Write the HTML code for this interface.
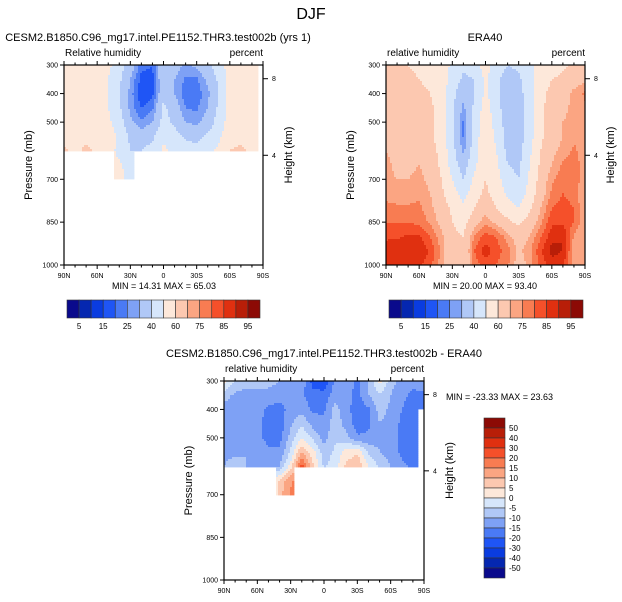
<!DOCTYPE html>
<html><head><meta charset="utf-8"><style>
html,body{margin:0;padding:0;background:#fff}
svg{display:block;font-family:"Liberation Sans",sans-serif}
</style></head><body>
<svg id="fig" width="622" height="602" viewBox="0 0 622 602" xmlns="http://www.w3.org/2000/svg">
<text x="311" y="19" text-anchor="middle" font-size="16">DJF</text>
</svg>
<script>
const lats=[90,80,70,60,50,40,30,20,10,0,-10,-20,-30,-40,-50,-60,-70,-80,-90];
const levels=[300,350,400,450,500,550,600,650,700,750,800,850,900,950,1000];
const absLevels=[5,10,15,20,25,30,40,50,60,70,75,80,85,90,95];
const diffLevels=[-50,-40,-30,-20,-15,-10,-5,0,5,10,15,20,30,40,50];
const colors=["#0a0a8c","#0527b0","#0a3ce0","#1f55f5","#4a7af5","#7ea1f5","#b0c8f7","#d6e6fb","#fde8da","#fcc8b0","#fba582","#f87c52","#f5502a","#e03010","#b81e08","#8c0a05"];
const modelRH=[
[56,56,55,55,52,45,35,22,20,40,35,28,32,38,45,55,55,58,62],
[55,55,55,54,50,42,30,18,18,38,30,24,24,32,42,54,55,56,60],
[55,55,55,54,50,40,28,15,18,38,30,22,22,28,40,54,55,55,60],
[55,55,55,54,50,42,28,20,24,42,35,25,24,30,42,54,55,55,58],
[55,55,56,55,52,45,32,26,30,44,38,30,28,34,45,54,55,55,55],
[56,58,58,57,55,48,38,34,38,48,44,38,36,42,48,56,57,56,55],
[62,57,62,58,56,46,40,40,44,52,48,46,44,48,52,60,62,58,55],
[60,58,60,58,56,52,44,45,48,52,50,48,46,50,54,60,60,58,55],
[60,58,60,58,56,54,46,48,50,52,50,48,48,50,54,60,60,58,55]];
const eraRH=[
[62,62,60,58,56,55,48,42,45,55,45,40,42,48,55,55,58,62,65],
[64,63,62,60,58,55,46,38,40,52,42,36,38,46,56,60,62,66,68],
[66,65,64,62,60,55,44,32,40,52,42,34,36,46,58,62,66,72,76],
[66,66,65,64,62,55,42,28,42,55,44,34,35,46,58,64,68,72,74],
[66,66,65,64,62,55,42,24,44,56,46,35,35,46,58,64,70,72,72],
[68,67,66,65,62,55,42,24,45,57,48,36,35,46,58,66,70,74,72],
[70,68,66,68,64,57,44,28,46,58,50,37,36,48,60,68,72,76,72],
[72,68,68,70,66,58,46,35,48,58,52,40,38,50,62,70,76,78,72],
[72,70,70,72,68,60,50,40,52,60,54,44,40,52,64,74,78,78,72],
[74,72,72,74,70,62,54,46,56,62,56,48,44,54,66,76,80,78,70],
[76,76,76,76,72,65,58,52,60,66,60,54,50,58,70,80,82,80,70],
[80,80,80,78,74,68,60,56,66,74,68,62,58,64,74,84,84,80,70],
[84,84,86,86,80,72,62,60,76,82,80,72,66,70,80,88,90,74,70],
[88,88,88,90,84,74,62,60,80,88,82,78,68,74,84,92,90,72,72],
[90,88,86,86,82,72,62,60,78,82,80,76,66,72,82,88,86,74,74]];
const diffRH=[
[2,-6,-8,-8,-8,-10,-12,-12,-22,-24,-14,-12,-16,-10,2,-8,-12,-14,-12],
[-8,-11,-12,-12,-12,-13,-13,-14,-18,-18,-12,-13,-17,-10,-6,-10,-14,-16,-16],
[-12,-13,-13,-13,-16,-17,-13,-12,-16,-16,-8,-13,-18,-16,-8,-11,-15,-17,-17],
[-12,-13,-13,-14,-17,-18,-11,-6,-12,-14,-7,-12,-18,-16,-10,-12,-16,-18,-18],
[-12,-13,-13,-13,-17,-17,-8,0,-6,-12,-6,-8,-14,-14,-11,-13,-16,-18,-18],
[-11,-11,-10,-11,-14,-14,-4,10,2,-8,-4,2,4,-6,-10,-12,-16,-18,-18],
[-10,-8,-10,-10,-10,-10,2,22,6,-6,-2,6,10,0,-6,-10,-14,-16,-18],
[-8,-8,-8,-8,-8,6,14,20,8,-4,-2,4,6,0,-4,-8,-10,-14,-16],
[-8,-8,-8,-8,-8,8,16,18,8,-4,-2,4,6,0,-4,-8,-10,-14,-16]];
const latTickLabels=["90N","60N","30N","0","30S","60S","90S"];
const latTicks=[90,60,30,0,-30,-60,-90];
const pTicks=[300,400,500,700,850,1000];
const hTicks=[[8,348],[4,616]];
const absLabels=["5","15","25","40","60","75","85","95"];
const diffLabels=["50","40","30","20","15","10","5","0","-5","-10","-15","-20","-30","-40","-50"];

const NS="http://www.w3.org/2000/svg";
const svg=document.getElementById('fig');
function el(t,a,p){const e=document.createElementNS(NS,t);for(const k in a)e.setAttribute(k,a[k]);(p||svg).appendChild(e);return e;}
function txt(x,y,s,size,anchor,p,rot){const e=el('text',{x:x,y:y,'font-size':size,'text-anchor':anchor||'middle'},p);if(rot)e.setAttribute('transform','rotate(-90 '+x+' '+y+')');e.textContent=s;return e;}
function cls(v,lv){let i=0;while(i<lv.length&&v>=lv[i])i++;return i;}
function sample(grid,lat,p){
  const fi=(90-lat)/10, fj=(p-300)/50;
  const i0=Math.min(Math.floor(fi),17), j0=Math.min(Math.floor(fj),grid.length-2);
  const di=fi-i0, dj=fj-j0;
  const a=grid[j0][i0],b=grid[j0][i0+1],c=grid[j0+1][i0],d=grid[j0+1][i0+1];
  return (a*(1-di)+b*di)*(1-dj)+(c*(1-di)+d*di)*dj;
}
function panel(o){
  const g=el('g',{},svg);
  
  
  const X=lat=>o.x+(90-lat)/180*o.w, Y=p=>o.y+(p-300)/700*o.h;
  const fill=el('g',{},g);
  
  
  const cs=2;
  for(let py=0;py<o.h;py+=cs){
    const p=300+(py+cs/2)/o.h*700;
    let runStart=-1,runCol=null;
    const flush=(end)=>{if(runCol!==null){const r=el('rect',{x:o.x+runStart,y:o.y+py,width:end-runStart+0.4,height:cs+0.4,fill:runCol},fill);}};
    for(let px=0;px<o.w;px+=cs){
      const lat=90-(px+cs/2)/o.w*180;
      let c=null;
      if(o.mask(lat,p)){c=colors[cls(sample(o.grid,lat,p),o.lv)];}
      if(c!==runCol){flush(px);runStart=px;runCol=c;}
    }
    flush(o.w);
  }
  el('rect',{x:o.x,y:o.y,width:o.w,height:o.h,fill:'none',stroke:'#000','stroke-width':1.2},g);
  for(let lat=90;lat>=-90;lat-=10){
    const major=lat%30===0, L=major?4:2.5, x=X(lat);
    el('line',{x1:x,y1:o.y+o.h,x2:x,y2:o.y+o.h+L,stroke:'#000','stroke-width':1},g);
    el('line',{x1:x,y1:o.y,x2:x,y2:o.y-L,stroke:'#000','stroke-width':1},g);
  }
  latTicks.forEach((lt,k)=>{const t=txt(X(lt),o.y+o.h+13,latTickLabels[k],7,'middle',g);});
  pTicks.forEach(p=>{el('line',{x1:o.x,y1:Y(p),x2:o.x-4,y2:Y(p),stroke:'#000'},g);const t=txt(o.x-6,Y(p)+2.5,String(p),7,'end',g);});
  hTicks.forEach(h=>{el('line',{x1:o.x+o.w,y1:Y(h[1]),x2:o.x+o.w+5,y2:Y(h[1]),stroke:'#000'},g);txt(o.x+o.w+11,Y(h[1])+2.5,String(h[0]),7,'middle',g);});
  const yt=txt(o.x-32,o.y+o.h/2,'Pressure (mb)',11,'middle',g,true);
  const ht=txt(o.x+o.w+29,o.y+o.h/2-10,'Height (km)',11,'middle',g,true);
  const vl=txt(o.x+1,o.y-9,o.varName,10,'start',g);
  const ul=txt(o.x+o.w,o.y-9,'percent',10,'end',g);
  const tt=txt(o.tx,o.y-24,o.title,11,'middle',g);
  const mm=txt(o.mmx,o.mmy,o.minmax,9,o.mma,g);
}
function hbar(x,y,w,h,name){
  const g=el('g',{},svg);
  const bw=w/16;
  colors.forEach((c,i)=>{const r=el('rect',{x:x+i*bw,y:y,width:bw,height:h,fill:c,stroke:'#333','stroke-width':0.6},g);});
  absLabels.forEach((s,k)=>{txt(x+(2*k+1)*bw,y+h+11,s,8,'middle',g);});
}
panel({name:'model-panel',x:64,y:65,w:199,h:200,grid:modelRH,lv:absLevels,varName:'Relative humidity',
  title:'CESM2.B1850.C96_mg17.intel.PE1152.THR3.test002b (yrs 1)',tx:158,minmax:'MIN =  14.31  MAX =  65.03',mmx:164,mmy:289,mma:'middle',
  mask:(lat,p)=>lat>-85&&(p<=600||(p<=700&&lat<=44&&lat>=27))});
panel({name:'era40-panel',x:386,y:65,w:199,h:200,grid:eraRH,lv:absLevels,varName:'relative humidity',
  title:'ERA40',tx:485,minmax:'MIN =  20.00  MAX =  93.40',mmx:485,mmy:289,mma:'middle',
  mask:(lat,p)=>true});
panel({name:'difference-panel',x:224,y:381,w:200,h:199,grid:diffRH,lv:diffLevels,varName:'relative humidity',
  title:'CESM2.B1850.C96_mg17.intel.PE1152.THR3.test002b - ERA40',tx:324,minmax:'MIN = -23.33  MAX =  23.63',mmx:446,mmy:400,mma:'start',
  mask:(lat,p)=>(p<=600&&(lat>-85||p<=400))||(p<=700&&lat<=44&&lat>=27)});
hbar(67,300,193,18,'model-colorbar');
hbar(389,300,194,18,'era40-colorbar');
(function(){
  const g=el('g',{},svg);
  const x=484,y=418,w=21,h=160,bh=h/16;
  for(let i=0;i<16;i++){const r=el('rect',{x:x,y:y+i*bh,width:w,height:bh,fill:colors[15-i],stroke:'#333','stroke-width':0.6},g);}
  diffLabels.forEach((s,k)=>{txt(x+w+4,y+(k+1)*bh+3,s,8,'start',g);});
})();
</script>
</body></html>
